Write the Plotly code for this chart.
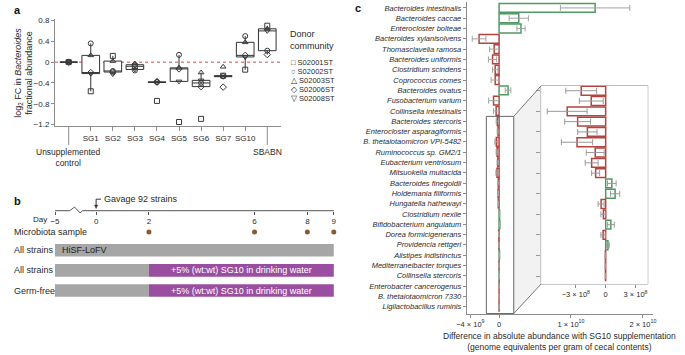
import numpy as np
import plotly.graph_objects as go

W, H = 685, 355
def px(x): return x / W
def py(y): return 1 - y / H

FONT = "Liberation Sans"
TXT = "#2a2a2a"
AX = "#8c8c8c"

# ---------------- Panel a data ----------------
groups = ["Unsupplemented control", "SG1", "SG2", "SG3", "SG4", "SG5", "SG6", "SG7", "SG10", "SBABN"]
group_ticks = ["SG1", "SG2", "SG3", "SG4", "SG5", "SG6", "SG7", "SG10"]
donors = ["S02001ST", "S02002ST", "S02003ST", "S02006ST", "S02008ST"]
donor_symbols = ["square-open", "circle-open", "triangle-up-open", "diamond-open", "triangle-down-open"]
donor_glyphs = ["\u25a1", "\u25cb", "\u25b3", "\u25c7", "\u25bd"]
fc_S02001ST = [0, -0.56, 0.12, -0.08, -0.745, -1.15, -1.09, -0.26, -0.145, 0.70]
fc_S02002ST = [0, 0.36, -0.17, -0.16, -0.38, 0.14, -0.40, -0.27, 0.50, 0.22]
fc_S02003ST = [0, 0.13, 0.02, -0.03, -0.36, -0.11, -0.20, -0.09, 0.38, 0.64]
fc_S02006ST = [0, -0.20, -0.19, -0.05, -0.385, -0.13, -0.47, -0.48, 0.13, 0.145]
fc_S02008ST = [0, -0.22, -0.23, -0.14, -0.39, -0.37, -0.35, -0.28, 0.10, 0.60]
fc_by_donor = [fc_S02001ST, fc_S02002ST, fc_S02003ST, fc_S02006ST, fc_S02008ST]
ytick_vals = [0.8, 0.4, 0, -0.4, -0.8, -1.2]
ytick_text = ["0.8", "0.4", "0", "\u22120.4", "\u22120.8", "\u22121.2"]

# ---------------- Panel b data ----------------
tick_days = [-5, 0, 2, 6, 8, 9]
tick_day_text = ["\u22125", "0", "2", "6", "8", "9"]
sample_days = [2, 6, 8, 9]
gavage_day = 0
diet_start, diet_end, supp_start = -5, 9, 2
row_labels = ["All strains", "All strains", "Germ-free"]
diet_text = "HiSF-LoFV"
supp_text = "+5% (wt:wt) SG10 in drinking water"

# ---------------- Panel c data ----------------
species = [
    "Bacteroides intestinalis", "Bacteroides caccae", "Enterocloster bolteae",
    "Bacteroides xylanisolvens", "Thomasclavelia ramosa", "Bacteroides uniformis",
    "Clostridium scindens", "Coprococcus comes", "Bacteroides ovatus",
    "Fusobacterium varium", "Collinsella intestinalis", "Bacteroides stercoris",
    "Enterocloster asparagiformis", "B. thetaiotaomicron VPI-5482", "Ruminococcus sp. GM2/1",
    "Eubacterium ventriosum", "Mitsuokella multacida", "Bacteroides finegoldii",
    "Holdemania filiformis", "Hungatella hathewayi", "Clostridium nexile",
    "Bifidobacterium angulatum", "Dorea formicigenerans", "Providencia rettgeri",
    "Alistipes indistinctus", "Mediterraneibacter torques", "Collinsella stercoris",
    "Enterobacter cancerogenus", "B. thetaiotaomicron 7330", "Ligilactobacillus ruminis",
]
diff_abundance = [
    1.336e10, 2.74e9, 3.05e9, -2.78e9, -6.8e8, -9.1e8, -5.4e8, -5.4e8, 1.25e9, -7.7e8,
    -4.1e8, -2.46e8, -1.45e8, -3.87e8, -2.82e8, -1.84e8, -2.88e8, -1.05e8, -1.41e8, -1.01e8,
    6.2e7, 9.5e7, -4.6e7, -2.3e7, 5.2e7, -2.6e7, 2.3e7, -3e6, -3e6, -2e6,
]
diff_error = [
    4.83e9, 1.34e9, 5.7e8, 9.5e8, 6.4e8, 5.7e8, 3.8e8, 5.7e8, 3.9e8, 6.8e8,
    3.6e8, 1.55e8, 1.2e8, 2.0e8, 1.3e8, 9.7e7, 1.57e8, 9.0e7, 6.5e7, 4.0e7,
    4.3e7, 4.6e7, 3.0e7, 2.5e7, 3.5e7, 2.2e7, 1.2e7, 2e6, 2e6, 2e6,
]
inset_start = 11
main_xticks = [-4e9, 0, 1e10, 2e10]
main_xtext = ["\u22124 \u00d7 10<sup>9</sup>", "0", "1 \u00d7 10<sup>10</sup>", "2 \u00d7 10<sup>10</sup>"]
inset_xticks = [-3e8, 0, 3e8]
inset_xtext = ["\u22123 \u00d7 10<sup>8</sup>", "0", "3 \u00d7 10<sup>8</sup>"]

GREEN = "#4f9a63"
RED = "#b3443f"
PURPLE = "#9a4e9f"
GREY = "#a6a6a6"
BROWN = "#8a5a2e"

fig = go.Figure()

# ---------- Panel a ----------
pos = list(range(len(groups)))
mat = np.array(fc_by_donor)
q1s, meds, q3s, lfs, ufs = [], [], [], [], []
for g in range(len(groups)):
    v = np.sort(mat[:, g])
    a, m, b = np.percentile(v, [25, 50, 75])
    iqr = b - a
    q1s.append(a); meds.append(m); q3s.append(b)
    lfs.append(v[v >= a - 1.5 * iqr - 1e-12].min())
    ufs.append(v[v <= b + 1.5 * iqr + 1e-12].max())

fig.add_trace(go.Box(
    x=pos, q1=q1s, median=meds, q3=q3s, lowerfence=lfs, upperfence=ufs,
    width=0.8, whiskerwidth=0, fillcolor="white", boxpoints=False,
    line=dict(color="#333333", width=1), xaxis="x", yaxis="y", showlegend=False,
    hoverinfo="skip"))
for d, sym, vals in zip(donors, donor_symbols, fc_by_donor):
    fig.add_trace(go.Scatter(
        x=pos, y=vals, mode="markers", name=d, showlegend=False,
        marker=dict(symbol=sym, size=5, color="#3a3a3a", line=dict(width=1, color="#3a3a3a")),
        xaxis="x", yaxis="y"))

# ---------- Panel c main ----------
colors = [GREEN if v > 0 else RED for v in diff_abundance]
fig.add_trace(go.Bar(
    y=species, x=diff_abundance, orientation="h", width=0.86,
    marker=dict(color="white", line=dict(color=colors, width=1.5)),
    error_x=dict(type="data", array=diff_error, color="#a3a3a3", thickness=1, width=3),
    xaxis="x2", yaxis="y2", showlegend=False))
# ---------- Panel c inset ----------
fig.add_trace(go.Bar(
    y=species[inset_start:], x=diff_abundance[inset_start:], orientation="h", width=0.86,
    marker=dict(color="white", line=dict(color=colors[inset_start:], width=1.5)),
    error_x=dict(type="data", array=diff_error[inset_start:], color="#999999", thickness=1, width=3),
    xaxis="x3", yaxis="y3", showlegend=False))

# ---------- Panel b ----------
def day_pos(d):
    # broken axis: pre-gavage period compressed
    return d if d >= 0 else d * 0.3112

fig.add_trace(go.Bar(
    y=[1], base=[day_pos(diet_start)], x=[day_pos(diet_end) - day_pos(diet_start)],
    orientation="h", width=0.62, marker=dict(color=GREY, line=dict(width=0)),
    xaxis="x4", yaxis="y4", showlegend=False))
fig.add_trace(go.Bar(
    y=[2, 3], base=[day_pos(diet_start)] * 2, x=[day_pos(supp_start) - day_pos(diet_start)] * 2,
    orientation="h", width=0.62, marker=dict(color=GREY, line=dict(width=0)),
    xaxis="x4", yaxis="y4", showlegend=False))
fig.add_trace(go.Bar(
    y=[2, 3], base=[day_pos(supp_start)] * 2, x=[day_pos(diet_end) - day_pos(supp_start)] * 2,
    orientation="h", width=0.62, marker=dict(color=PURPLE, line=dict(width=0)),
    xaxis="x4", yaxis="y4", showlegend=False))
fig.add_trace(go.Scatter(
    x=[day_pos(d) for d in sample_days], y=[0.1] * len(sample_days), mode="markers",
    marker=dict(color=BROWN, size=5), xaxis="x4", yaxis="y4", showlegend=False))

# ---------- axes ----------
common_font = dict(family=FONT, size=8, color=TXT)
fig.update_layout(
    width=W, height=H, margin=dict(l=0, r=0, t=0, b=0),
    paper_bgcolor="white", plot_bgcolor="white", barmode="overlay",
    font=dict(family=FONT, size=8, color=TXT),
    xaxis=dict(domain=[px(45), px(276)], range=[-0.62, 9.62], anchor="y",
               tickvals=list(range(1, 9)), ticktext=group_ticks, ticks="outside", ticklen=4,
               tickcolor=AX, showline=True, linecolor=AX, linewidth=1, showgrid=False,
               zeroline=False, tickfont=common_font),
    yaxis=dict(domain=[py(126.2), py(16.9)], range=[-1.235, 0.835], anchor="x",
               tickvals=ytick_vals, ticktext=ytick_text, ticks="outside", ticklen=3,
               tickcolor=AX, showline=True, linecolor=AX, linewidth=1, showgrid=False,
               zeroline=False, tickfont=common_font),
    xaxis2=dict(domain=[px(466), px(656)], range=[-0.449e10, 2.136e10], anchor="y2",
                tickvals=main_xticks, ticktext=main_xtext, ticks="outside", ticklen=3,
                tickcolor=AX, showline=True, linecolor=AX, linewidth=1, showgrid=False,
                zeroline=False, tickfont=dict(family=FONT, size=7.5, color=TXT)),
    yaxis2=dict(domain=[py(316), 1], anchor="x2", type="category", categoryorder="array",
                categoryarray=species, range=[29.67, -0.574], ticks="outside", ticklen=3,
                tickcolor=AX, showline=True, linecolor=AX, linewidth=1, showgrid=False,
                tickfont=dict(family=FONT, size=7.5, color=TXT, style="italic")),
    xaxis3=dict(domain=[px(542), px(651)], range=[-6.49e8, 4.23e8], anchor="y3",
                tickvals=inset_xticks, ticktext=inset_xtext, ticks="outside", ticklen=3,
                tickcolor="#888888", showline=False, showgrid=False, zeroline=False,
                tickfont=dict(family=FONT, size=7.5, color=TXT)),
    yaxis3=dict(domain=[py(286), py(85)], anchor="x3", type="category", categoryorder="array",
                categoryarray=species[inset_start:], range=[18.76, -0.478], ticks="outside",
                ticklen=4, tickcolor="#999999", showticklabels=False, showline=False,
                showgrid=False),
    xaxis4=dict(domain=[px(40), px(340)], range=[-1.7407, 9.370], anchor="free",
                position=py(211.7), tickvals=[day_pos(d) for d in tick_days],
                ticktext=tick_day_text, ticks="outside", ticklen=3, tickcolor="#555555",
                showline=False, showgrid=False, zeroline=False,
                tickfont=dict(family=FONT, size=8, color=TXT)),
    yaxis4=dict(domain=[py(305), py(222)], range=[3.6, -0.449], anchor="x4", visible=False),
)

shapes = []
# panel a zero line
shapes.append(dict(type="line", xref="x", yref="y", x0=-0.62, x1=9.62, y0=0, y1=0,
                   line=dict(color="#d98a8c", width=1.5, dash="3px,3px"), layer="below"))
# long ticks for control and SBABN
for g in (0, len(groups) - 1):
    shapes.append(dict(type="line", xref="x", yref="paper", x0=g, x1=g, y0=py(126.5), y1=py(145),
                       line=dict(color=AX, width=1)))
# panel b timeline with break
y0 = 211.7
tl = (f"M {day_pos(-5)},{py(y0)} L {(60-87)/27},{py(y0)} L {(65-87)/27},{py(208)} "
      f"L {(70.7-87)/27},{py(214)} L {(73-87)/27},{py(y0)} L {day_pos(9)},{py(y0)}")
shapes.append(dict(type="path", xref="x4", yref="paper", path=tl, line=dict(color="#555555", width=1)))
# gavage arrow
shapes.append(dict(type="path", xref="x4", yref="paper",
                   path=f"M {(92-87)/27},{py(200)} L {gavage_day},{py(200)} L {gavage_day},{py(207)}",
                   line=dict(color="#333333", width=1)))
shapes.append(dict(type="path", xref="x4", yref="paper",
                   path=f"M {-1.6/27},{py(206)} L {1.6/27},{py(206)} L {gavage_day},{py(209.5)} Z",
                   fillcolor="#333333", line=dict(color="#333333", width=0.5)))
# inset background
shapes.append(dict(type="rect", xref="x3 domain", yref="y3 domain", x0=0, x1=1, y0=0, y1=1,
                   fillcolor="#e4e4e4", line=dict(color="#8c8c8c", width=1), layer="below"))
# connector trapezoid
shapes.append(dict(type="path", xref="paper", yref="paper",
                   path=f"M {px(514)},{py(116)} L {px(542)},{py(85)} L {px(542)},{py(286)} L {px(514)},{py(316)} Z",
                   fillcolor="rgba(0,0,0,0.05)", line=dict(width=0), layer="below"))
shapes.append(dict(type="line", xref="paper", yref="paper", x0=px(514), y0=py(116), x1=px(542), y1=py(85),
                   line=dict(color="#777777", width=1)))
shapes.append(dict(type="line", xref="paper", yref="paper", x0=px(514), y0=py(316), x1=px(542), y1=py(286),
                   line=dict(color="#777777", width=1)))
# zoom box in main panel
shapes.append(dict(type="rect", xref="paper", yref="paper", x0=px(486), x1=px(514), y0=py(316), y1=py(116),
                   line=dict(color="#666666", width=1), fillcolor="rgba(0,0,0,0)", layer="above"))
fig.update_layout(shapes=shapes)

ann = []
def A(text, x, y, xanchor="left", size=8, xref="paper", yref="paper", color=TXT, **kw):
    d = dict(text=text, x=x, y=y, xref=xref, yref=yref, xanchor=xanchor, yanchor="middle",
             showarrow=False, font=dict(family=FONT, size=size, color=color))
    d.update(kw)
    ann.append(d)

A("<b>a</b>", px(1), py(8), size=11, color="#111111")
A("<b>b</b>", px(1), py(202), size=11, color="#111111")
A("<b>c</b>", px(350), py(6), size=11, color="#111111")
A("log<sub>2</sub> FC in <i>Bacteroides</i><br>fractional abundance", px(13), py(72),
  xanchor="center", size=9, textangle=-90)
A("Unsupplemented<br>control", 0, py(158), xanchor="center", size=8.5, xref="x")
A("SBABN", len(groups) - 1, py(152), xanchor="center", size=8.5, xref="x")
A("Donor<br>community", px(283), py(39), size=9, align="left")
for i, (g, d) in enumerate(zip(donor_glyphs, donors)):
    A(f"{g} {d}", px(284), py(61 + i * 9.3), size=7.5)
# panel b labels
A("Day", px(39), py(220.5), xanchor="right", size=8)
A("Microbiota sample", px(1), py(233.3), size=9)
for i, r in enumerate(row_labels):
    A(r, px(1), i + 1, size=9, yref="y4")
A(diet_text, day_pos(diet_start) + 0.2, 1, size=9, xref="x4", yref="y4", color="#222222")
for r in (2, 3):
    A(supp_text, (day_pos(supp_start) + day_pos(diet_end)) / 2, r, xanchor="center", size=9,
      xref="x4", yref="y4", color="white")
A("Gavage 92 strains", px(93), py(200), size=9)
# panel c axis title
A("Difference in absolute abundance with SG10 supplementation<br>(genome equivalents per gram of cecal contents)",
  px(561), py(344.5), xanchor="center", size=8.5)
fig.update_layout(annotations=ann)

fig.write_html("out.html", config={"displayModeBar": False},
               post_script="document.body.style.margin='0px';document.body.style.overflow='hidden';")
